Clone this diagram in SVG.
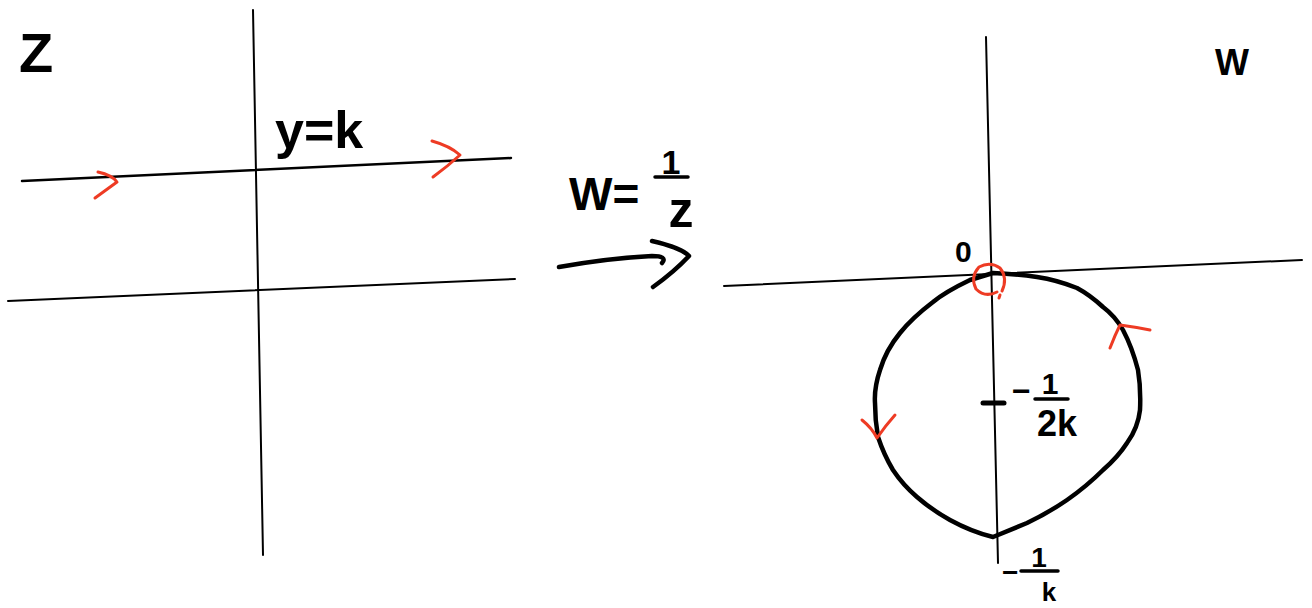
<svg xmlns="http://www.w3.org/2000/svg" width="1312" height="608" viewBox="0 0 1312 608">
<style>
.ax{fill:none;stroke:#000;stroke-width:2;stroke-linecap:round}
.ln{fill:none;stroke:#000;stroke-width:2.5;stroke-linecap:round}
.thick{fill:none;stroke:#000;stroke-width:4.5;stroke-linecap:round;stroke-linejoin:round}
.red{fill:none;stroke:#ee3b24;stroke-width:3;stroke-linecap:round;stroke-linejoin:round}
.bar{fill:none;stroke:#000;stroke-width:3.5;stroke-linecap:round}
text{font-family:"Liberation Sans",Arial,sans-serif;fill:#000;font-weight:bold}
</style>
<rect width="1312" height="608" fill="#fff"/>

<g id="z-plane">
  <line class="ax" x1="253" y1="10" x2="263" y2="555"/>
  <line class="ax" x1="8" y1="301" x2="515" y2="279"/>
  <line class="ln" x1="22" y1="181" x2="511" y2="158"/>
  <path class="red" d="M98,172 Q112,175 117,182 Q106,190 95,198"/>
  <path class="red" d="M432,141 Q450,146 460,155 Q448,166 433,177"/>
  <text x="19" y="72" font-size="56">Z</text>
  <text x="275" y="148" font-size="52">y=k</text>
</g>

<g id="mapping-label">
  <text x="569" y="210" font-size="46">W=</text>
  <text x="671" y="174" font-size="34" text-anchor="middle">1</text>
  <line class="bar" x1="655" y1="177" x2="688" y2="177"/>
  <text x="681" y="227" font-size="50" text-anchor="middle">z</text>
</g>

<g id="connectors">
  <path class="thick" d="M559,267 Q610,258 652,256 Q668,256 662,263"/>
  <path class="thick" d="M652,241 Q682,248 689,256 Q674,272 653,287"/>
</g>

<g id="w-plane">
  <line class="ax" x1="986" y1="37" x2="998" y2="563"/>
  <line class="ax" x1="724" y1="286" x2="1302" y2="260"/>
  <text x="1215" y="75" font-size="36">W</text>
  <text x="955" y="262" font-size="30">0</text>
  <path class="thick" d="M993,273 L970,280 Q945,292 933,302 Q912,318 900,333 Q886,350 880,370 Q874,388 875,403 Q875,420 878,437 Q884,455 893,470 Q903,485 917,497 Q932,510 950,520 Q972,532 993,537 Q1010,530 1027,523 Q1048,513 1067,500 Q1087,486 1103,470 Q1118,457 1127,443 Q1138,428 1140,410 Q1141,388 1138,370 Q1132,347 1123,330 Q1115,316 1103,307 Q1090,295 1077,288 Q1057,280 1037,277 Q1015,274 993,273 Z"/>
  <path class="red" d="M1002,291 Q1008,278 1000,268 Q990,261 979,267 Q970,277 976,289 Q985,298 997,292 M1000,295 L999,298"/>
  <path class="red" d="M1110,348 Q1115,335 1120,325 Q1135,327 1150,330"/>
  <path class="red" d="M862,420 Q872,428 877,438 Q886,425 895,415"/>
  <line x1="983" y1="403" x2="1004" y2="403" stroke="#000" stroke-width="5" stroke-linecap="round"/>
  <text x="1012" y="402" font-size="32">−</text>
  <text x="1050" y="394" font-size="30" text-anchor="middle">1</text>
  <line class="bar" x1="1035" y1="399" x2="1068" y2="399"/>
  <text x="1057" y="436" font-size="36" text-anchor="middle">2k</text>
  <text x="1002" y="582" font-size="28">−</text>
  <text x="1039" y="567" font-size="28" text-anchor="middle">1</text>
  <line class="bar" x1="1021" y1="571" x2="1058" y2="571"/>
  <text x="1049" y="601" font-size="26" text-anchor="middle">k</text>
</g>
</svg>
